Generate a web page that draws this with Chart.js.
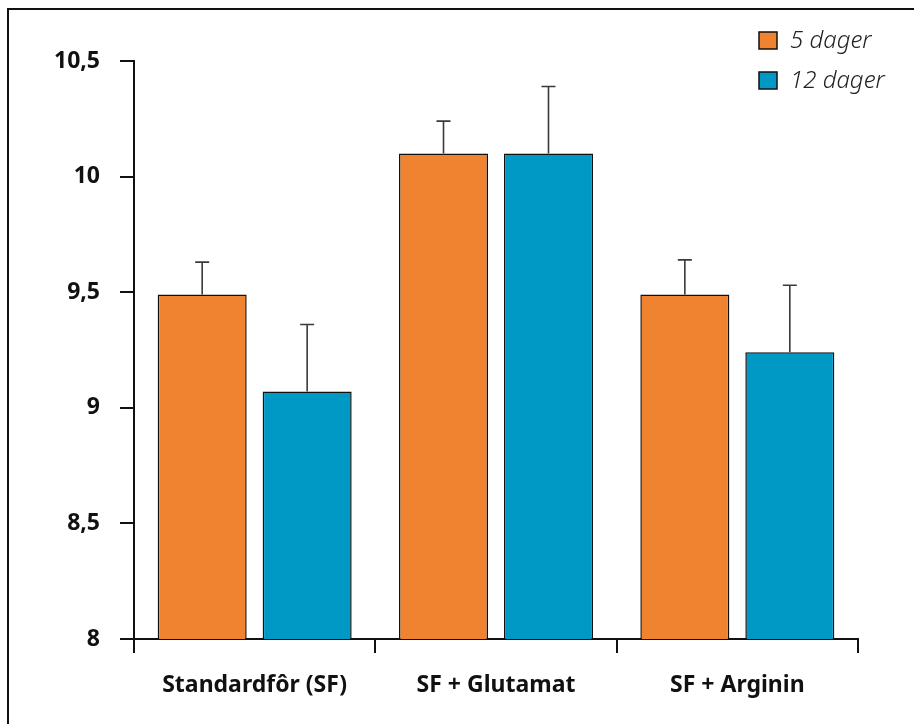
<!DOCTYPE html>
<html>
<head>
<meta charset="utf-8">
<script src="https://cdn.jsdelivr.net/npm/chart.js@4.4.1/dist/chart.umd.min.js"></script>
<style>
  html, body { margin: 0; padding: 0; background: #fff; overflow: hidden; }
  #frame { position: absolute; left: 7px; top: 8px; width: 1000px; height: 1000px; border: 2px solid #111; }
  #wrap { position: absolute; left: 0; top: 0; width: 914px; height: 724px; }
</style>
</head>
<body>
<div id="frame"></div>
<div id="wrap"><canvas id="chart-bars"></canvas></div>
<script>
// values
var categories = ['Standardfôr (SF)', 'SF + Glutamat', 'SF + Arginin'];
var seriesNames = ['5 dager', '12 dager'];
var days5 = [9.49, 10.10, 9.49];
var days12 = [9.07, 10.10, 9.24];
var days5Err = [9.63, 10.24, 9.64];
var days12Err = [9.36, 10.39, 9.53];
var yTicks = [8, 8.5, 9, 9.5, 10, 10.5];

var colors = ['#F0832F', '#0099C6'];
var tickFont = { family: 'Noto Sans', size: 23, weight: 'bold' };

// upper error bars with a small cap
var errorBars = {
    id: 'errorBars',
    afterDatasetsDraw: function (chart) {
        var ctx = chart.ctx;
        var y = chart.scales.y;
        var tops = [days5Err, days12Err];
        ctx.save();
        ctx.strokeStyle = '#3a3a3a';
        ctx.lineWidth = 1.6;
        for (var d = 0; d < 2; d++) {
            var meta = chart.getDatasetMeta(d);
            meta.data.forEach(function (bar, i) {
                var yTop = y.getPixelForValue(tops[d][i]);
                ctx.beginPath();
                ctx.moveTo(bar.x, bar.y);
                ctx.lineTo(bar.x, yTop);
                ctx.moveTo(bar.x - 7, yTop);
                ctx.lineTo(bar.x + 7, yTop);
                ctx.stroke();
            });
        }
        ctx.restore();
    }
};

// legend boxes in the top right corner
var cornerLegend = {
    id: 'cornerLegend',
    afterDraw: function (chart) {
        var ctx = chart.ctx;
        ctx.save();
        ctx.font = 'italic 300 24px "Noto Sans"';
        ctx.textBaseline = 'middle';
        for (var i = 0; i < seriesNames.length; i++) {
            var top = 32 + i * 40;
            ctx.fillStyle = colors[i];
            ctx.fillRect(759, top, 18, 17);
            ctx.strokeStyle = '#111';
            ctx.lineWidth = 1.5;
            ctx.strokeRect(759, top, 18, 17);
            ctx.fillStyle = '#222';
            ctx.fillText(seriesNames[i], 790, top + 9);
        }
        ctx.restore();
    }
};

var barsContext = document.getElementById('chart-bars').getContext('2d');
var barsData = {
    labels: categories,
    datasets: [{
        label: seriesNames[0],
        data: days5,
        backgroundColor: colors[0],
        borderColor: '#111',
        borderWidth: 1.5,
        borderSkipped: false
    }, {
        label: seriesNames[1],
        data: days12,
        backgroundColor: colors[1],
        borderColor: '#111',
        borderWidth: 1.5,
        borderSkipped: false
    }]
};

var barsChart = new Chart(barsContext, {
    type: 'bar',
    data: barsData,
    plugins: [errorBars, cornerLegend],
    options: {
        responsive: true,
        maintainAspectRatio: false,
        animation: false,
        categoryPercentage: 0.87,
        barPercentage: 0.848,
        layout: { padding: { left: 0, top: 61, right: 56, bottom: 0 } },
        plugins: {
            legend: { display: false },
            tooltip: { enabled: false }
        },
        scales: {
            x: {
                offset: true,
                grid: {
                    offset: true,
                    drawOnChartArea: false,
                    drawTicks: true,
                    tickLength: 14,
                    color: '#111',
                    lineWidth: 2
                },
                border: { display: true, color: '#111', width: 2 },
                ticks: { color: '#111', font: tickFont, padding: 19 },
                afterFit: function (scale) { scale.height = 85; }
            },
            y: {
                min: 8,
                max: 10.5,
                afterBuildTicks: function (scale) {
                    scale.ticks = yTicks.map(function (v) { return { value: v }; });
                },
                grid: {
                    drawOnChartArea: false,
                    drawTicks: true,
                    tickLength: 14,
                    color: '#111',
                    lineWidth: 2
                },
                border: { display: true, color: '#111', width: 2 },
                ticks: {
                    color: '#111',
                    font: tickFont,
                    padding: 20,
                    callback: function (v) { return String(v).replace('.', ','); }
                },
                afterFit: function (scale) { scale.width = 134; }
            }
        }
    }
});
</script>
</body>
</html>
